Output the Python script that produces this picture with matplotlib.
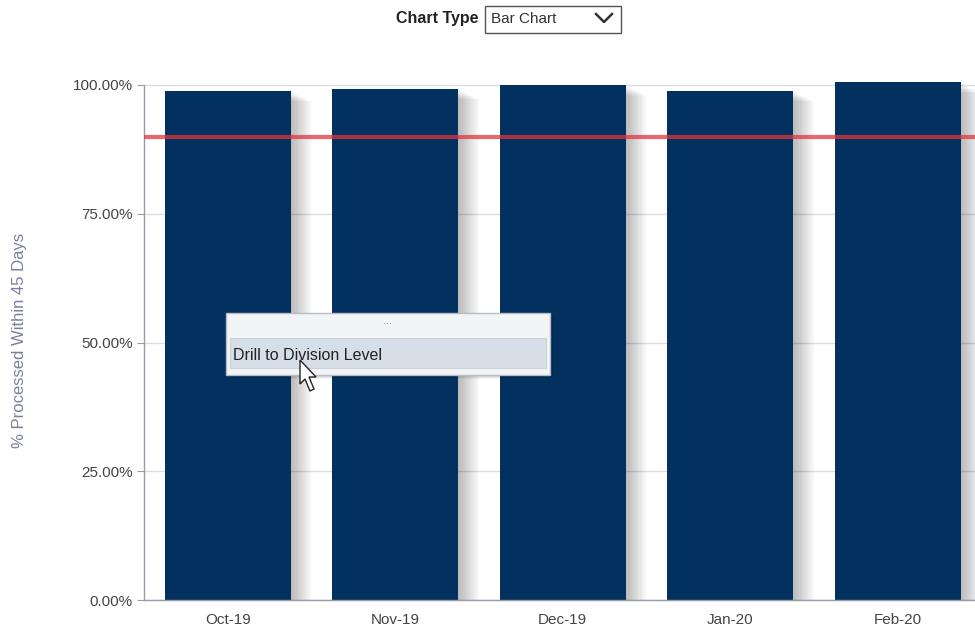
import matplotlib.pyplot as plt
from matplotlib.patches import Rectangle, Polygon
from matplotlib.lines import Line2D

months = ["Oct-19", "Nov-19", "Dec-19", "Jan-20", "Feb-20"]
pct_within_45 = [98.9, 99.3, 100.0, 98.9, 100.5]
target_pct = 90.0
y_ticks = [0, 25, 50, 75, 100]

W, H = 975, 635
fig = plt.figure(figsize=(W / 100, H / 100), dpi=100)
plt.rcParams['font.family'] = ['Liberation Sans', 'DejaVu Sans']


def px(x, y):
    # pixel position (from top-left) -> figure fraction
    return x / W, 1 - y / H


ax = fig.add_axes([144 / W, 1 - 600 / H, 1 - 144 / W, (600 - 74.7) / H])
xs = list(range(len(months)))
bar_w = 0.75

# soft drop shadow on the right of each bar
for k in range(1, 15):
    ax.bar([x + k * 0.009 for x in xs], [v - k * 0.15 for v in pct_within_45],
           width=bar_w, color="#000000", alpha=0.018, zorder=1, linewidth=0)

ax.bar(xs, pct_within_45, width=bar_w, color="#02315f", zorder=2, linewidth=0)
ax.axhline(target_pct, color="#e0353f", lw=3, alpha=0.75, zorder=3)

ax.set_xlim(-0.5, -0.5 + (W - 144) / 167.5)
ax.set_ylim(0, 102)
ax.set_xticks(xs)
ax.set_xticklabels(months)
ax.set_yticks(y_ticks)
ax.set_yticklabels([f"{v:.2f}%" for v in y_ticks])
ax.tick_params(axis="x", length=0, pad=9, labelsize=11, labelcolor="#444444")
ax.tick_params(axis="y", length=5, color="#9a9aa8", pad=3, labelsize=11,
               labelcolor="#444444")
ax.grid(axis="y", color="#dcdce2", lw=1, zorder=0)
ax.set_axisbelow(True)
for s in ["top", "right"]:
    ax.spines[s].set_visible(False)
for s in ["left", "bottom"]:
    ax.spines[s].set_color("#9a9aa8")
    ax.spines[s].set_linewidth(1)
ax.spines["left"].set_bounds(0, 100)

fig.text(*px(20, 340), "% Processed Within 45 Days", rotation=90,
         ha="center", va="center", fontsize=12, color="#7a7f9c")

# chart type selector
fig.text(*px(479, 19), "Chart Type", ha="right", va="center",
         fontsize=11.5, fontweight="bold", color="#222222")
fig.add_artist(Rectangle(px(485, 33), 136 / W, 27 / H, transform=fig.transFigure,
                         facecolor="white", edgecolor="#555555", lw=1))
fig.text(*px(491, 19), "Bar Chart", ha="left", va="center",
         fontsize=11, color="#333333")
cx, cy = px(596, 14)
cx2, cy2 = px(604, 22)
cx3, cy3 = px(612, 14)
fig.add_artist(Line2D([cx, cx2, cx3], [cy, cy2, cy3], transform=fig.transFigure,
                      color="#333333", lw=1.8))

# context menu popup
for k in range(1, 5):
    fig.add_artist(Rectangle(px(226 + k, 375 + k), 324 / W, 62 / H,
                             transform=fig.transFigure, facecolor="black",
                             alpha=0.05, lw=0, zorder=9))
fig.add_artist(Rectangle(px(226, 375), 324 / W, 62 / H, transform=fig.transFigure,
                         facecolor="#f3f4f6", edgecolor="#b8bcc4", lw=1, zorder=10))
fig.add_artist(Rectangle(px(230, 368), 316 / W, 30 / H, transform=fig.transFigure,
                         facecolor="#d6dee7", edgecolor="#c8d0da", lw=0.8, zorder=11))
fig.text(*px(388, 321), "...", ha="center", va="center", fontsize=8,
         color="#888888", zorder=12)
fig.text(*px(233, 355), "Drill to Division Level", ha="left", va="center",
         fontsize=11.5, color="#222222", zorder=12)

# mouse pointer
cursor = [(300, 360), (300, 384), (305, 379), (310, 391), (314, 389),
          (309, 377), (316, 377)]
fig.add_artist(Polygon([px(a, b) for a, b in cursor], closed=True,
                       transform=fig.transFigure, facecolor="white",
                       edgecolor="#222222", lw=1, zorder=13))

fig.savefig("out.png", dpi=100)
